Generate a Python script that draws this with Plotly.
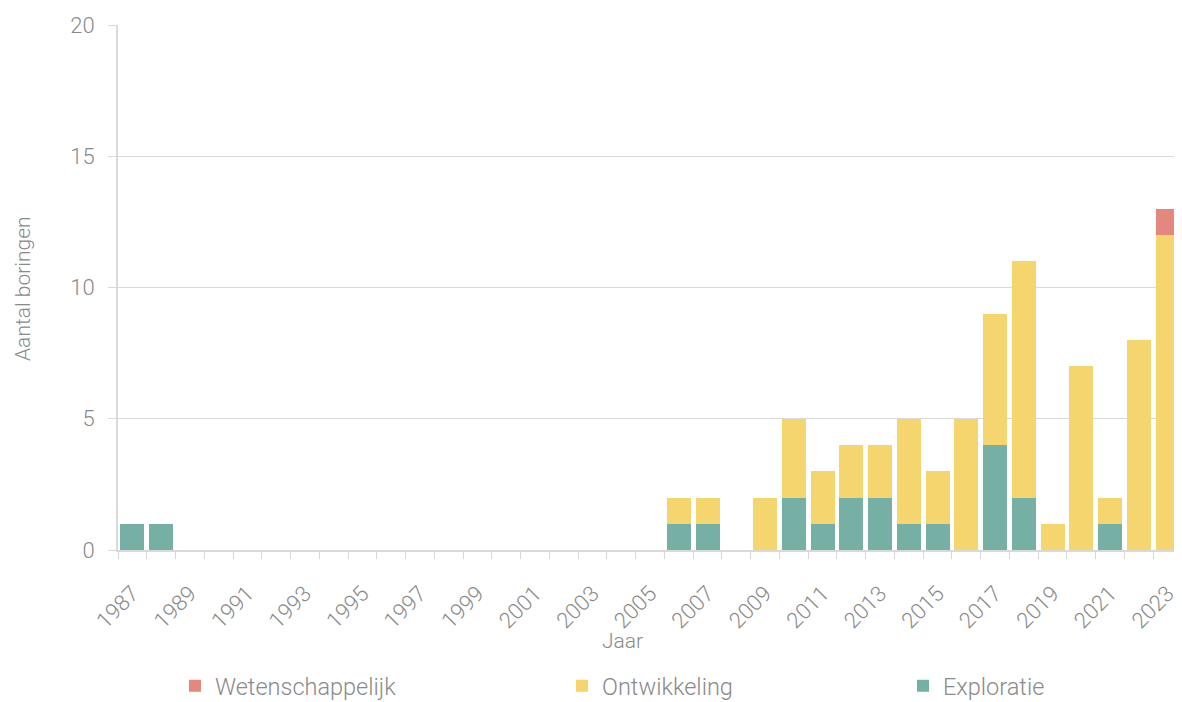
import plotly.graph_objects as go

years = list(range(1987, 2024))
exploratie = {1987: 1, 1988: 1, 2006: 1, 2007: 1, 2010: 2, 2011: 1, 2012: 2, 2013: 2,
              2014: 1, 2015: 1, 2017: 4, 2018: 2, 2021: 1}
ontwikkeling = {2006: 1, 2007: 1, 2009: 2, 2010: 3, 2011: 2, 2012: 2, 2013: 2, 2014: 4,
                2015: 2, 2016: 5, 2017: 5, 2018: 9, 2019: 1, 2020: 7, 2021: 1, 2022: 8, 2023: 12}
wetenschappelijk = {2023: 1}

cats = [str(y) for y in years]
tick_text = [str(y) if y % 2 == 1 else "" for y in years]

FONT = "Roboto, Liberation Sans, Arial, sans-serif"
GRAY = "#8a8a8a"
LINE = "#d9d9d9"

# page has an 8px body margin: figure origin sits at (8, 8) in the window
OFF = 8
PL, PT, PW, PH = 118, 25, 1064, 525  # plot area in window pixels
FIG_W, FIG_H = 1182 - OFF, 702 - OFF

def vals(d):
    return [d.get(y, 0) for y in years]

fig = go.Figure()
fig.add_trace(go.Bar(x=cats, y=vals(exploratie), name="Exploratie",
                     marker=dict(color="#76B0A5", line=dict(width=0)), legend="legend4"))
fig.add_trace(go.Bar(x=cats, y=vals(ontwikkeling), name="Ontwikkeling",
                     marker=dict(color="#F5D56E", line=dict(width=0)), legend="legend3"))
fig.add_trace(go.Bar(x=cats, y=vals(wetenschappelijk), name="Wetenschappelijk",
                     marker=dict(color="#E4877F", line=dict(width=0)), legend="legend2"))

leg_common = dict(orientation="h", yanchor="middle", y=-(686 - (PT + PH)) / PH, xanchor="left",
                  font=dict(family=FONT, size=23.5, color=GRAY, weight=300),
                  bgcolor="rgba(0,0,0,0)")

fig.update_layout(
    width=FIG_W, height=FIG_H,
    margin=dict(l=PL - OFF, r=FIG_W - (PL - OFF) - PW, t=PT - OFF,
                b=FIG_H - (PT - OFF) - PH, autoexpand=False),
    paper_bgcolor="white", plot_bgcolor="white",
    barmode="stack", bargap=0.165,
    font=dict(family=FONT, color=GRAY, weight=300),
    showlegend=True,
    legend=dict(visible=False),
    legend2=dict(x=(175 - PL) / PW, **leg_common),
    legend3=dict(x=(562 - PL) / PW, **leg_common),
    legend4=dict(x=(903 - PL) / PW, **leg_common),
    xaxis=dict(type="category", categoryorder="array", categoryarray=cats,
               tickmode="array", tickvals=cats, ticktext=tick_text,
               tickson="boundaries", ticks="outside", ticklen=7, tickcolor=LINE,
               tickangle=-45, tickfont=dict(family=FONT, size=22, color=GRAY, weight=300),
               ticklabelstandoff=20, automargin=False,
               showline=True, linecolor=LINE, linewidth=2, showgrid=False),
    yaxis=dict(range=[0, 20], tickvals=[0, 5, 10, 15, 20], ticks="outside", ticklen=8,
               tickcolor=LINE, tickfont=dict(family=FONT, size=22, color=GRAY, weight=300),
               ticklabelstandoff=9, automargin=False,
               showline=True, linecolor=LINE, linewidth=2,
               showgrid=True, gridcolor=LINE, gridwidth=1, zeroline=False),
    annotations=[
        dict(text="Jaar", xref="paper", yref="paper", x=(622 - PL) / PW,
             y=-(641 - (PT + PH)) / PH, xanchor="center", yanchor="middle",
             showarrow=False, font=dict(family=FONT, size=21, color=GRAY, weight=300)),
        dict(text="Aantal boringen", xref="paper", yref="paper", x=(23 - PL) / PW,
             y=(PT + PH - 289) / PH, xanchor="center", yanchor="middle", textangle=-90,
             showarrow=False, font=dict(family=FONT, size=21, color=GRAY, weight=300)),
    ],
)

fig.write_html("out.html")
